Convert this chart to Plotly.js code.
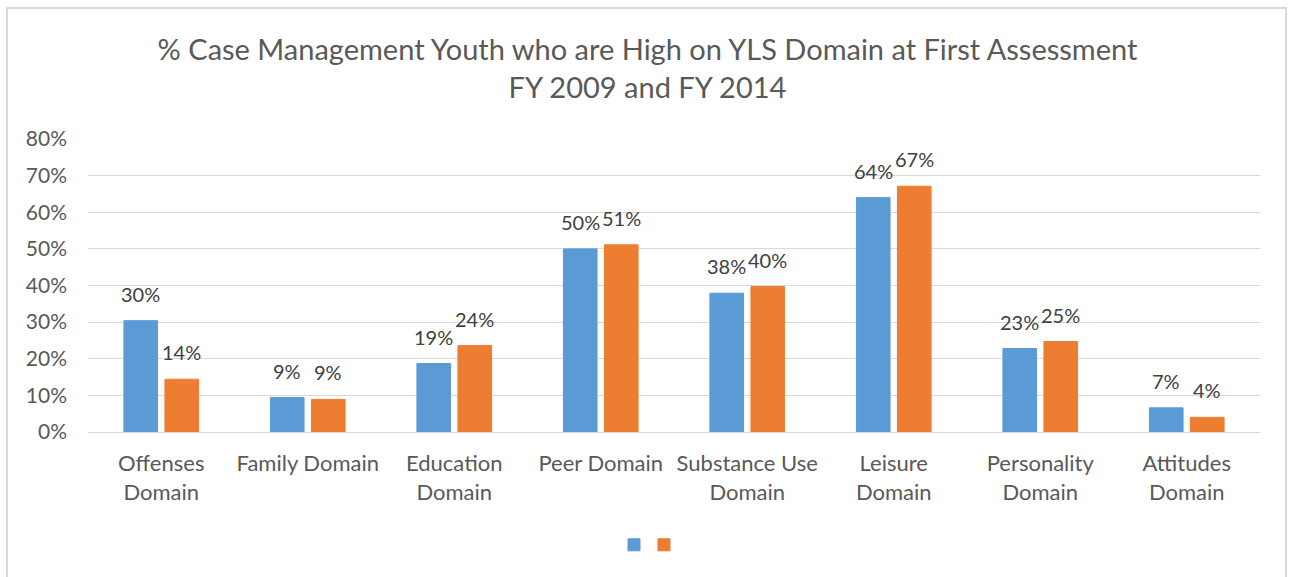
<!DOCTYPE html>
<html><head><meta charset="utf-8">
<script src="https://cdn.plot.ly/plotly-3.0.1.min.js"></script>
<style>
html,body{margin:0;padding:0;background:#fff;}
#wrap{position:relative;width:1295px;height:577px;overflow:hidden;}
#chart{width:1295px;height:577px;}
#frame{position:absolute;left:6px;top:7px;width:1281px;height:580px;border:2px solid #D9D9D9;box-sizing:border-box;pointer-events:none;}
</style></head>
<body>
<div id="wrap"><div id="chart"></div><div id="frame"></div></div>
<script>
var categories = ["Offenses<br>Domain","Family Domain","Education<br>Domain","Peer Domain","Substance Use<br>Domain","Leisure<br>Domain","Personality<br>Domain","Attitudes<br>Domain"];
var fy2009 = [0.304, 0.094, 0.187, 0.500, 0.379, 0.640, 0.228, 0.066];
var fy2014 = [0.144, 0.089, 0.236, 0.511, 0.397, 0.671, 0.247, 0.040];
var yTickVals = [0,0.1,0.2,0.3,0.4,0.5,0.6,0.7,0.8];
var yTickText = ["0%","10%","20%","30%","40%","50%","60%","70%","80%"];

var FONT = "Lato, 'Open Sans', sans-serif";
var traces = [
  {type:'bar', x:categories, y:fy2009, name:'', legend:'legend', marker:{color:'#5B9BD5', line:{color:'#5B9BD5', width:1}}, hoverinfo:'y'},
  {type:'bar', x:categories, y:fy2014, name:'', legend:'legend2', marker:{color:'#ED7D31', line:{color:'#ED7D31', width:1}}, hoverinfo:'y'}
];
var annotations = [];
var off = 0.14;
for (var i=0;i<categories.length;i++){
  annotations.push({x:i-off, y:fy2009[i], xref:'x', yref:'y', text:Math.round(fy2009[i]*100)+'%', showarrow:false, yanchor:'bottom', yshift:13, font:{family:FONT,size:20,color:'#404040'}});
  annotations.push({x:i+off, y:fy2014[i], xref:'x', yref:'y', text:Math.round(fy2014[i]*100)+'%', showarrow:false, yanchor:'bottom', yshift:13, font:{family:FONT,size:20,color:'#404040'}});
}
var legBase = {orientation:'h', xanchor:'left', y:-0.386, yanchor:'middle', font:{family:FONT,size:18}, itemwidth:30, bgcolor:'rgba(0,0,0,0)'};
var layout = {
  width:1295, height:577,
  margin:{l:88, r:35, t:139, b:145},
  paper_bgcolor:'#fff', plot_bgcolor:'#fff',
  font:{family:FONT, color:'#595959'},
  title:{text:'% Case Management Youth who are High on YLS Domain at First Assessment<br>FY 2009 and FY 2014', font:{family:FONT,size:29,color:'#595959'}, x:0.5, xanchor:'center', y:1-60/577, yanchor:'top', yref:'container'},
  barmode:'group', bargap:0.44, bargroupgap:0.18,
  xaxis:{type:'category', tickfont:{family:FONT,size:22,color:'#595959'}, showgrid:false, showline:true, linecolor:'#D9D9D9', linewidth:1, ticks:'', ticklabelstandoff:12, fixedrange:true},
  yaxis:{range:[0,0.8], tickvals:yTickVals, ticktext:yTickText, tickfont:{family:FONT,size:21,color:'#595959'}, showgrid:true, gridcolor:'#D9D9D9', gridwidth:1, zeroline:false, showline:false, ticks:'', ticklabelstandoff:20, fixedrange:true},
  showlegend:true,
  legend:Object.assign({}, legBase, {x:(614-88)/1172}),
  legend2:Object.assign({}, legBase, {x:(644-88)/1172}),
  annotations:annotations
};
Plotly.newPlot('chart', traces, layout, {displayModeBar:false, staticPlot:true});
</script>
</body></html>
